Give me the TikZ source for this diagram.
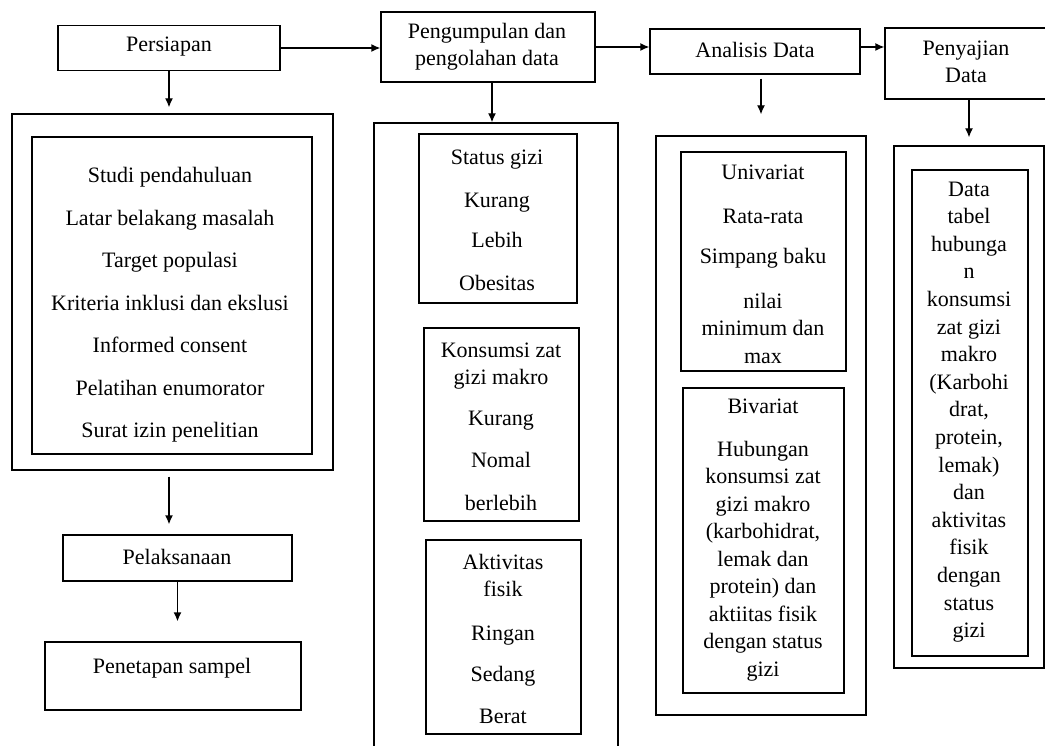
\documentclass[tikz,border=0pt]{standalone}
\usepackage{fontspec}
\setmainfont{Liberation Serif}
\usetikzlibrary{arrows.meta,calc}
\begin{document}
\begin{tikzpicture}[x=1pt,y=-1pt,
  box/.style={draw, line width=1.3pt, inner sep=0pt, rectangle},
  txt/.style={align=center, inner sep=0pt, font=\fontsize{22}{27.5}\selectfont},
  arr/.style={line width=1.3pt, -{Latex[length=9pt,width=8pt]}}]
\useasboundingbox (0,0) rectangle (1045,746);

% top row
\node[box, minimum width=222, minimum height=45] (persiapan) at (169,48) {};
\node[box, minimum width=214, minimum height=70] (pengumpulan) at (488,47) {};
\node[box, minimum width=210, minimum height=45] (analisis) at (755,51.5) {};
\node[box, minimum width=162, minimum height=71] (penyajian) at (966,63.5) {};

\node[txt] (tpersiapan) at (169,47) {Persiapan};
\node[txt] (tpengumpulan) at (487,46.5) {Pengumpulan dan\\pengolahan data};
\node[txt] (tanalisis) at (755,50) {Analisis Data};
\node[txt] (tpenyajian) at (966,62) {Penyajian\\Data};

% column 1
\node[box, minimum width=321, minimum height=356] (outer1) at (172.5,292) {};
\node[box, minimum width=280, minimum height=317] (inner1) at (172,295.5) {};
\node[txt] (tinner1) at (170,305) {Studi pendahuluan\\[15pt]Latar belakang masalah\\[15pt]Target populasi\\[15pt]Kriteria inklusi dan ekslusi\\[15pt]Informed consent\\[15pt]Pelatihan enumorator\\[15pt]Surat izin penelitian};
\node[box, minimum width=229, minimum height=46] (pelaksanaan) at (177.5,558) {};
\node[txt] (tpelaksanaan) at (177,557) {Pelaksanaan};
\node[box, minimum width=256, minimum height=68] (penetapan) at (173,676) {};
\node[txt] (tpenetapan) at (172,668) {Penetapan sampel};

% column 2
\node[box, minimum width=244, minimum height=627] (outer2) at (496,436.5) {};
\node[box, minimum width=158, minimum height=169] (status) at (498,218.5) {};
\node[txt] (tstatus) at (497,220) {Status gizi\\[15.5pt]Kurang\\[12.5pt]Lebih\\[15.5pt]Obesitas};
\node[box, minimum width=155, minimum height=193] (konsumsi) at (501.5,424.5) {};
\node[txt] (tkonsumsi) at (501,427) {Konsumsi zat\\gizi makro\\[13.5pt]Kurang\\[14.5pt]Nomal\\[15.5pt]berlebih};
\node[box, minimum width=155, minimum height=194] (aktivitas) at (503.5,637) {};
\node[txt] (taktivitas) at (503,639) {Aktivitas\\fisik\\[16.5pt]Ringan\\[13.5pt]Sedang\\[14.5pt]Berat};

% column 3
\node[box, minimum width=210, minimum height=579] (outer3) at (761,425.5) {};
\node[box, minimum width=165, minimum height=219] (univariat) at (763.5,261.5) {};
\node[txt] (tunivariat) at (763,264) {Univariat\\[16.5pt]Rata-rata\\[12.5pt]Simpang baku\\[17.5pt]nilai\\minimum dan\\max};
\node[box, minimum width=161, minimum height=305] (bivariat) at (763.5,540.5) {};
\node[txt] (tbivariat) at (763,540) {Bivariat\\[15.5pt]Hubungan\\konsumsi zat\\gizi makro\\(karbohidrat,\\lemak dan\\protein) dan\\aktiitas fisik\\dengan status\\gizi};

% column 4
\node[box, minimum width=150, minimum height=522] (outer4) at (969,407) {};
\node[box, minimum width=116, minimum height=486] (inner4) at (970,413) {};
\node[txt, font=\fontsize{22}{27.6}\selectfont] (tinner4) at (969,412) {Data\\tabel\\hubunga\\n\\konsumsi\\zat gizi\\makro\\(Karbohi\\drat,\\protein,\\lemak)\\dan\\aktivitas\\fisik\\dengan\\status\\gizi};

% horizontal arrows
\draw[arr] (persiapan.east) -- (persiapan.east -| pengumpulan.west);
\draw[arr] (pengumpulan.east) -- (pengumpulan.east -| analisis.west);
\draw[arr] (analisis.east |- pengumpulan.east) -- (penyajian.west |- pengumpulan.east);

% vertical arrows
\draw[arr, shorten >=6pt] (persiapan.south) -- (persiapan.south |- outer1.north);
\draw[arr, shorten <=6pt, shorten >=10pt] (persiapan.south |- outer1.south) -- (persiapan.south |- pelaksanaan.north);
\draw[arr, shorten >=20pt] (pelaksanaan.south) -- (pelaksanaan.south |- penetapan.north);
\draw[arr] ($(pengumpulan.south)+(4,0)$) -- ($(pengumpulan.south |- outer2.north)+(4,0)$);
\draw[arr, shorten <=4pt, shorten >=21pt] (outer3.north |- analisis.south) -- (outer3.north);
\draw[arr, shorten >=8pt] (outer4.north |- penyajian.south) -- (outer4.north);
\end{tikzpicture}
\end{document}
